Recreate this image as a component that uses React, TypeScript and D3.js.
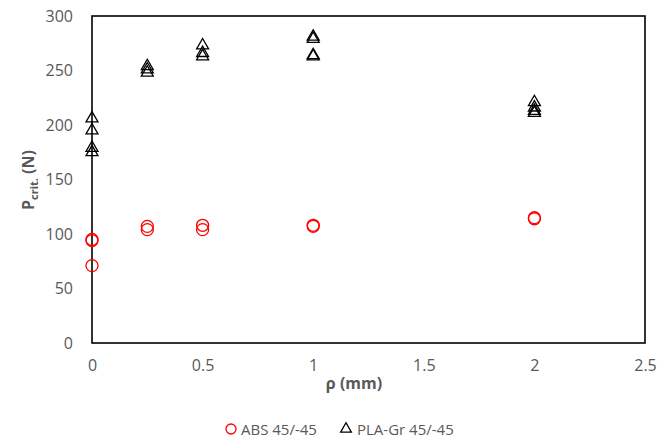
import React, { useEffect, useRef } from "react";
import * as d3 from "d3";

// ABS 45/-45 (red circles)
const absRho = [0, 0, 0, 0.25, 0.25, 0.5, 0.5, 1, 1, 2, 2];
const absP = [94, 95, 71, 107, 104, 108, 104, 108, 107, 114, 115];

// PLA-Gr 45/-45 (black triangles)
const plaRho = [0, 0, 0, 0, 0.25, 0.25, 0.25, 0.5, 0.5, 0.5, 1, 1, 1, 1, 2, 2, 2, 2];
const plaP = [206, 195, 179, 175, 254, 251, 248, 273, 266, 263, 281, 279, 264, 263, 221, 216, 213, 211];

const xTicks = [0, 0.5, 1, 1.5, 2, 2.5];
const yTicks = [0, 50, 100, 150, 200, 250, 300];

const App = () => {
  const ref = useRef<SVGSVGElement>(null);

  useEffect(() => {
    const width = 672;
    const height = 441;
    const margin = { top: 16, right: 27, bottom: 98, left: 92 };
    const innerWidth = width - margin.left - margin.right;
    const innerHeight = height - margin.top - margin.bottom;
    const font = "'Open Sans', sans-serif";
    const grey = "#595959";

    const svg = d3.select(ref.current);
    svg.selectAll("*").remove();
    svg.append("rect").attr("width", width).attr("height", height).attr("fill", "white");

    const g = svg.append("g").attr("transform", `translate(${margin.left}, ${margin.top})`);

    const xScale = d3.scaleLinear().domain([0, 2.5]).range([0, innerWidth]);
    const yScale = d3.scaleLinear().domain([0, 300]).range([innerHeight, 0]);

    // frame
    g.append("rect").attr("width", innerWidth).attr("height", innerHeight)
      .attr("fill", "none").attr("stroke", "black").attr("stroke-width", 1.6);

    const xAxis = d3.axisBottom(xScale).tickValues(xTicks).tickSize(0).tickPadding(17)
      .tickFormat(d => String(d));
    const yAxis = d3.axisLeft(yScale).tickValues(yTicks).tickSize(0).tickPadding(19);

    const xa = g.append("g").attr("transform", `translate(0, ${innerHeight})`).call(xAxis);
    const ya = g.append("g").call(yAxis);
    [xa, ya].forEach(a => {
      a.select(".domain").remove();
      a.selectAll("text").attr("fill", grey).style("font-family", font).style("font-size", "16px");
    });

    // ABS circles
    g.selectAll(".abs").data(absRho).join("circle").attr("class", "abs")
      .attr("cx", d => xScale(d)).attr("cy", (d, i) => yScale(absP[i]))
      .attr("r", 6).attr("fill", "none").attr("stroke", "#ff0000").attr("stroke-width", 1.3);

    // PLA triangles
    const tri = d3.symbol().type(d3.symbolTriangle).size(62);
    g.selectAll(".pla").data(plaRho).join("path").attr("class", "pla")
      .attr("d", tri)
      .attr("transform", (d, i) => `translate(${xScale(d)}, ${yScale(plaP[i])})`)
      .attr("fill", "none").attr("stroke", "black").attr("stroke-width", 1.3);

    // axis titles
    svg.append("text").attr("x", 354).attr("y", 389).attr("text-anchor", "middle")
      .attr("fill", grey).style("font-family", font).style("font-size", "16px").style("font-weight", "bold")
      .text("ρ (mm)");

    const yt = svg.append("text").attr("transform", "translate(34, 180) rotate(-90)")
      .attr("text-anchor", "middle").attr("fill", grey)
      .style("font-family", font).style("font-size", "16px").style("font-weight", "bold");
    yt.append("tspan").text("P");
    yt.append("tspan").attr("dy", 4).style("font-size", "11px").text("crit.");
    yt.append("tspan").attr("dy", -4).text(" (N)");

    // legend
    const lg = svg.append("g").attr("transform", "translate(0, 429)");
    lg.append("circle").attr("cx", 231).attr("cy", 0).attr("r", 5)
      .attr("fill", "none").attr("stroke", "#ff0000").attr("stroke-width", 1.3);
    lg.append("text").attr("x", 241).attr("y", 5.5).attr("fill", grey)
      .style("font-family", font).style("font-size", "15px").text("ABS 45/-45");
    lg.append("path").attr("d", d3.symbol().type(d3.symbolTriangle).size(50)())
      .attr("transform", "translate(346, 0)")
      .attr("fill", "none").attr("stroke", "black").attr("stroke-width", 1.3);
    lg.append("text").attr("x", 357).attr("y", 5.5).attr("fill", grey)
      .style("font-family", font).style("font-size", "15px").text("PLA-Gr 45/-45");
  }, []);

  return <svg ref={ref} width={672} height={441} style={{ position: "absolute", left: 0, top: 0 }} />;
};

export default App;
